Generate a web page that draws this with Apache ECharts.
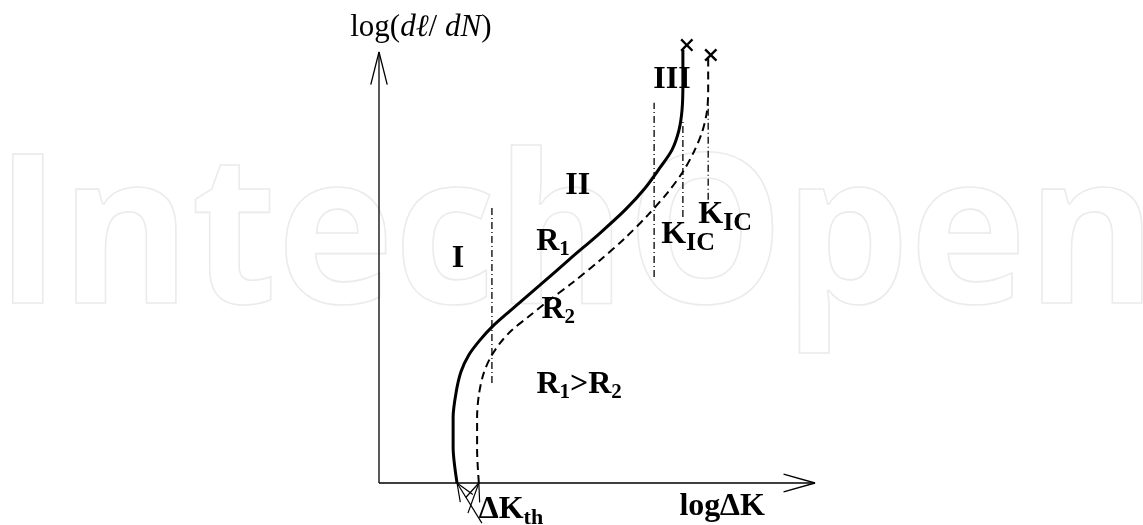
<!DOCTYPE html>
<html>
<head>
<meta charset="utf-8">
<script src="https://cdn.jsdelivr.net/npm/echarts@6/dist/echarts.min.js"></script>
<style>
html, body { margin: 0; padding: 0; background: #fff; }
#main { width: 1143px; height: 525px; }
</style>
</head>
<body>
<div id="main"></div>
<script>
// schematic crack growth curves, axes in arbitrary log units (0..10)
var solidCurve = [[1.79, 0], [1.70, 0.84], [1.70, 1.53], [1.77, 2.11], [1.88, 2.58], [2.06, 2.97],
	[2.32, 3.32], [2.61, 3.64], [3.00, 3.99], [3.69, 4.59], [4.38, 5.20], [5.07, 5.80],
	[5.64, 6.33], [6.10, 6.84], [6.44, 7.31], [6.72, 7.73], [6.88, 8.19], [6.95, 8.65],
	[6.97, 9.23], [6.97, 10.05]];
var dashedCurve = [[2.29, 0], [2.25, 0.77], [2.25, 1.53], [2.29, 2.04], [2.39, 2.51], [2.55, 2.90],
	[2.78, 3.25], [3.05, 3.55], [3.42, 3.85], [3.85, 4.20], [4.43, 4.64], [5.07, 5.17],
	[5.64, 5.68], [6.17, 6.22], [6.63, 6.75], [6.97, 7.22], [7.22, 7.68], [7.41, 8.14],
	[7.52, 8.61], [7.55, 9.12], [7.55, 9.88]];
var failPoints = [[7.06, 10.16], [7.61, 9.93]];

// region borders (dash-dot)
var divI = [[2.59, 2.32], [2.59, 6.38]];
var divIII = [[6.31, 4.78], [6.31, 8.82]];
var kicSolid = [[6.97, 6.17], [6.97, 8.42]];
var kicDashed = [[7.55, 6.57], [7.55, 8.82]];

// axes and threshold pointers
var xAxisLine = [[0, 0], [10, 0]];
var yAxisLine = [[0, 0], [0, 10]];
var thArrowA = [[2.36, -0.93], [1.79, 0]];
var thArrowB = [[2.04, -0.70], [2.29, 0]];

// texts
var noteText = ['{r|log(}{i|d\u2113}{r|/ }{i|dN}{r|)}', '{b|III}', '{b|II}', '{b|I}',
	'{b|R}{s|1}', '{b|R}{s|2}', '{b|R}{s|1}{b|>R}{s|2}', '{b|K}{k|IC}', '{b|K}{k|IC}',
	'{b|\u2206K}{t|th}', '{b|log\u2206K}'];
var notePos = [[0.96, 10.56], [6.72, 9.35], [4.56, 6.89], [1.81, 5.20], [3.99, 5.59],
	[4.11, 4.01], [4.59, 2.27], [7.09, 5.75], [7.94, 6.22], [3.03, -0.63], [7.87, -0.56]];

function openArrow(tail, tip, len, deg) {
	var dx = tail[0] - tip[0], dy = tail[1] - tip[1];
	var d = Math.sqrt(dx * dx + dy * dy);
	dx /= d; dy /= d;
	var a = deg * Math.PI / 180;
	function arm(s) {
		var c = Math.cos(s * a), sn = Math.sin(s * a);
		return [tip[0] + len * (dx * c - dy * sn), tip[1] + len * (dx * sn + dy * c)];
	}
	return [arm(1), tip, arm(-1)];
}

function line(data, width, type) {
	return {
		type: 'line',
		data: data,
		symbol: 'none',
		clip: false,
		silent: true,
		smooth: false,
		lineStyle: { color: '#000', width: width, type: type || 'solid', opacity: 1 }
	};
}

var serif = 'Liberation Serif';
var rich = {
	r: { fontFamily: serif, fontSize: 31, color: '#000', verticalAlign: 'top', lineHeight: 32 },
	i: { fontFamily: serif, fontSize: 31, fontStyle: 'italic', color: '#000', verticalAlign: 'top', lineHeight: 32 },
	b: { fontFamily: serif, fontSize: 32, fontWeight: 'bold', color: '#000', verticalAlign: 'top', lineHeight: 32 },
	s: { fontFamily: serif, fontSize: 21, fontWeight: 'bold', color: '#000', verticalAlign: 'top', lineHeight: 21, padding: [13, 0, 0, 0] },
	k: { fontFamily: serif, fontSize: 26, fontWeight: 'bold', color: '#000', verticalAlign: 'top', lineHeight: 26, padding: [11, 0, 0, 0] },
	t: { fontFamily: serif, fontSize: 22, fontWeight: 'bold', color: '#000', verticalAlign: 'top', lineHeight: 22, padding: [13, 0, 0, 0] }
};

var notes = [];
for (var i = 0; i < noteText.length; i++) {
	notes.push({
		value: notePos[i],
		label: { formatter: noteText[i] }
	});
}

var chart = echarts.init(document.getElementById('main'));
var solid = line(solidCurve, 3);
solid.smooth = 0.3;
var dashed = line(dashedCurve, 2, [8, 5]);
dashed.smooth = 0.3;
var dashDot = [7, 3, 1, 3];

chart.setOption({
	animation: false,
	backgroundColor: '#fff',
	graphic: [{
		type: 'text',
		z: -10,
		silent: true,
		x: -5,
		y: 140,
		scaleX: 0.953,
		style: {
			text: 'IntechOpen',
			font: 'bold 208px "Open Sans"',
			verticalAlign: 'top',
			fill: 'rgba(0,0,0,0)',
			stroke: '#ebebeb',
			lineWidth: 1.6
		}
	}],
	grid: { left: 335.4, top: 52, width: 479.6, height: 431 },
	xAxis: { type: 'value', min: -1, max: 10, show: false },
	yAxis: { type: 'value', min: 0, max: 10, show: false },
	series: [
		line(xAxisLine, 1.3),
		line(yAxisLine, 1.3),
		line(openArrow(xAxisLine[0], xAxisLine[1], 0.75, 16), 1.3),
		line(openArrow(yAxisLine[0], yAxisLine[1], 0.78, 14), 1.3),
		line(thArrowA, 1.2),
		line(thArrowB, 1.2),
		line(openArrow(thArrowA[0], thArrowA[1], 0.45, 22), 1.2),
		line(openArrow(thArrowB[0], thArrowB[1], 0.45, 22), 1.2),
		line(divI, 1.3, dashDot),
		line(divIII, 1.3, dashDot),
		line(kicSolid, 1.3, dashDot),
		line(kicDashed, 1.3, dashDot),
		solid,
		dashed,
		{
			type: 'scatter',
			data: failPoints,
			clip: false,
			silent: true,
			symbol: 'path://M0,1.3L1.3,0L5,3.7L8.7,0L10,1.3L6.3,5L10,8.7L8.7,10L5,6.3L1.3,10L0,8.7L3.7,5Z',
			symbolSize: 13,
			itemStyle: { color: '#000', opacity: 1 }
		},
		{
			type: 'scatter',
			data: notes,
			clip: false,
			silent: true,
			symbolSize: 0,
			itemStyle: { opacity: 1 },
			label: {
				show: true,
				position: 'inside',
				align: 'center',
				verticalAlign: 'middle',
				color: '#000',
				opacity: 1,
				textBorderWidth: 0,
				textBorderColor: 'transparent',
				rich: rich
			}
		}
	]
});
</script>
</body>
</html>
